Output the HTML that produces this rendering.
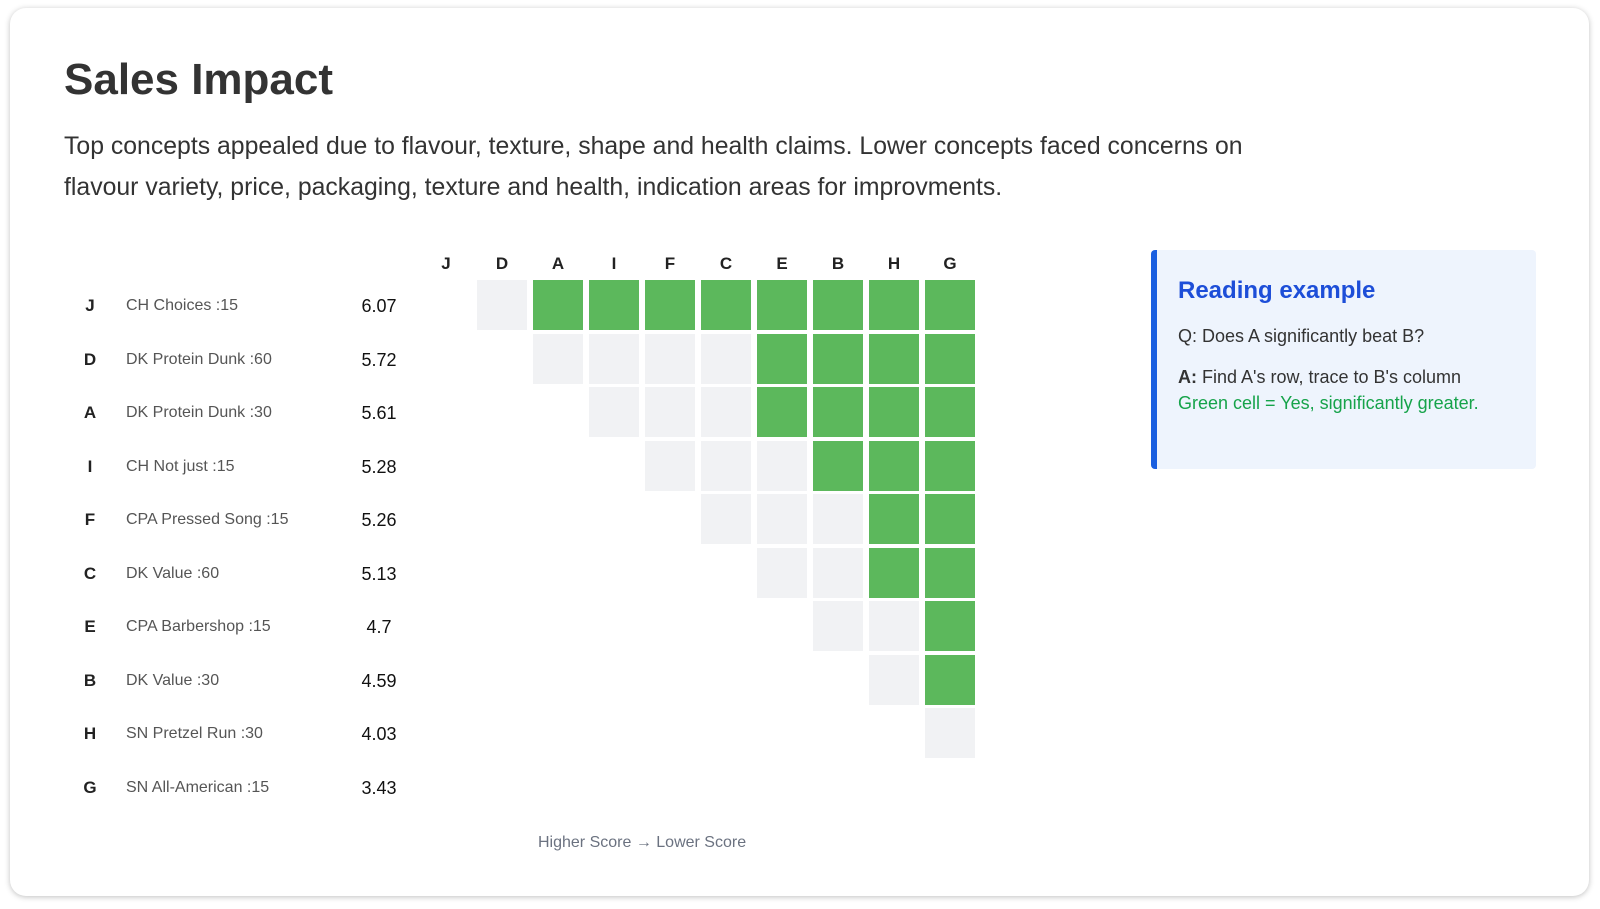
<!DOCTYPE html>
<html><head><meta charset="utf-8"><style>
body{margin:0;width:1600px;height:909px;background:#fff;font-family:"Liberation Sans",sans-serif;position:relative;overflow:hidden}
.card{position:absolute;left:10px;top:8px;width:1579px;height:888px;border-radius:16px;background:#fff;box-shadow:0 1px 6px rgba(0,0,0,.25)}
.a{position:absolute;white-space:nowrap}
h1{position:absolute;left:64px;top:54px;margin:0;font-size:44px;font-weight:bold;color:#333;line-height:52px}
.p{position:absolute;left:64px;top:126px;font-size:24.8px;color:#333;line-height:41px;width:1350px}
.lt{font-weight:bold;font-size:17px;color:#222;width:20px;text-align:center;left:80px}
.nm{font-size:16px;color:#555;left:126px}
.vl{font-size:18px;color:#111;width:60px;text-align:center;left:349px}
.hd{font-weight:bold;font-size:17px;color:#222;width:50px;text-align:center;top:254px}
.c{position:absolute;width:50px;height:50px}
.g{background:#5cb85c}.l{background:#f1f2f4}
.box{position:absolute;left:1151px;top:250px;width:379px;height:219px;background:#eef4fd;border-left:6px solid #1a5fe0;border-radius:4px}
</style></head><body>
<div class="card"></div>
<h1>Sales Impact</h1>
<div class="p">Top concepts appealed due to flavour, texture, shape and health claims. Lower concepts faced concerns on<br>flavour variety, price, packaging, texture and health, indication areas for improvments.</div>
<div id="rows"></div>
<div class="a" style="left:538px;top:834px;font-size:16px;color:#6b7280">Higher Score → Lower Score</div>
<div class="box">
<div class="a" style="left:21px;top:27px;font-size:24px;font-weight:bold;color:#1d4ed8">Reading example</div>
<div class="a" style="left:21px;top:76px;font-size:18px;color:#333">Q: Does A significantly beat B?</div>
<div class="a" style="left:21px;top:117px;font-size:18px;color:#333"><b>A:</b> Find A's row, trace to B's column</div>
<div class="a" style="left:21px;top:143px;font-size:18px;color:#16a34a">Green cell = Yes, significantly greater.</div>
</div>
<script>
const L=["J","D","A","I","F","C","E","B","H","G"];
const N=["CH Choices :15","DK Protein Dunk :60","DK Protein Dunk :30","CH Not just :15","CPA Pressed Song :15","DK Value :60","CPA Barbershop :15","DK Value :30","SN Pretzel Run :30","SN All-American :15"];
const V=["6.07","5.72","5.61","5.28","5.26","5.13","4.7","4.59","4.03","3.43"];
const G=[2,6,6,7,8,8,9,9,10];
let h="";
for(let i=0;i<10;i++){
 const y=305+i*53.5-9;
 h+=`<div class="a lt" style="top:${y}px">${L[i]}</div><div class="a nm" style="top:${y+1}px">${N[i]}</div><div class="a vl" style="top:${y}px">${V[i]}</div>`;
 h+=`<div class="a hd" style="left:${421+i*56}px">${L[i]}</div>`;
}
for(let r=0;r<9;r++){for(let c=r+1;c<10;c++){
 const x=477+(c-1)*56,y=280+r*53.5;
 h+=`<div class="c ${c>=G[r]?'g':'l'}" style="left:${x}px;top:${y}px"></div>`;
}}
document.getElementById("rows").innerHTML=h;
</script>
</body></html>
